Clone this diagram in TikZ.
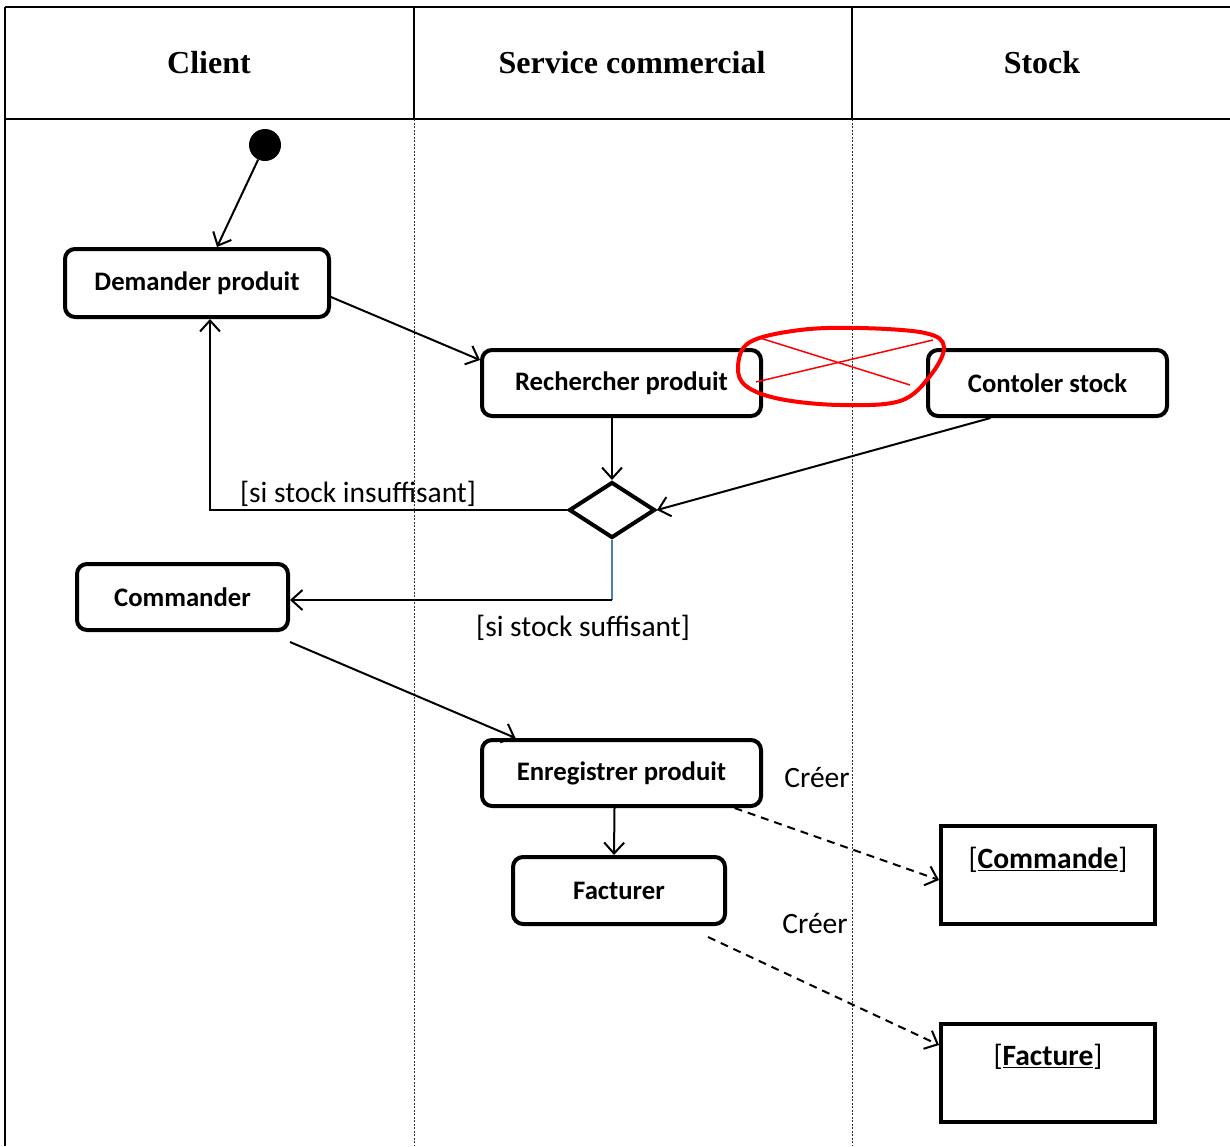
\documentclass[tikz,border=0pt]{standalone}
\usepackage{fontspec}
\setmainfont{Carlito}
\newfontfamily\hdrfont{Liberation Serif}
\usetikzlibrary{arrows.meta,shapes.geometric,calc}
\definecolor{flowblue}{RGB}{74,126,187}
\begin{document}
\begin{tikzpicture}[x=1pt,y=-1pt,
  act/.style={draw,line width=4pt,rounded corners=10pt,inner sep=0pt,
    font=\fontsize{26.7}{32}\selectfont\bfseries},
  objbox/.style={draw,line width=4pt,inner sep=0pt,minimum width=214pt,minimum height=98pt},
  objtext/.style={font=\fontsize{29.5}{35}\selectfont,inner sep=0pt},
  hdr/.style={font=\hdrfont\fontsize{32}{38}\selectfont\bfseries},
  lbl/.style={font=\fontsize{29.5}{35}\selectfont,inner sep=0pt},
  arr/.style={line width=2pt,-{Straight Barb[length=11pt,width=20pt,line width=2pt]}},
  darr/.style={arr,dash pattern=on 8pt off 6pt},
  frame/.style={line width=2pt},
  lane/.style={line width=1pt,dash pattern=on 2pt off 1.5pt,black!80}]
\useasboundingbox (0,0) rectangle (1230,1146);

% swimlane frame and headers
\draw[frame] (5,7) -- (1230,7);
\draw[frame] (5,119) -- (1230,119);
\draw[frame] (5,7) -- (5,1146);
\draw[line width=1.2pt] (414,7) -- (414,119);
\draw[line width=1.2pt] (852,7) -- (852,119);
\draw[lane] (414,119) -- (414,1146);
\draw[lane] (852,119) -- (852,1146);
\node[hdr] (hclient) at (209,63) {Client};
\node[hdr] (hserv) at (632,63) {Service commercial};
\node[hdr] (hstock) at (1042,63) {Stock};

% activities
\node[fill=black,circle,inner sep=0pt,minimum size=32pt] (start) at (265,145) {};
\node[act,minimum width=264pt,minimum height=68pt] (dem) at (197,283) {Demander produit};
\node[act,minimum width=279pt,minimum height=66pt] (rech) at (621.5,383) {Rechercher produit};
\node[act,minimum width=239pt,minimum height=66pt] (ctrl) at (1047.5,383) {Contoler stock};
\node[draw,line width=4pt,shape=diamond,aspect=1.54,minimum width=86pt,minimum height=56pt,inner sep=0pt] (dia) at (612,510) {};
\node[act,minimum width=211pt,minimum height=66pt] (cmd) at (182.5,597) {Commander};
\node[act,minimum width=279pt,minimum height=66pt] (enr) at (621.5,773) {Enregistrer produit};
\node[act,minimum width=212pt,minimum height=67pt] (fact) at (619,890.5) {Facturer};

% object boxes
\node[objbox] (ocmd) at (1048,875) {};
\node[objtext] (ocmdt) at ($(ocmd.north)+(0,36)$) {[\underline{\textbf{Commande}}]};
\node[objbox] (ofact) at (1048,1073) {};
\node[objtext] (ofactt) at ($(ofact.north)+(0,35)$) {[\underline{\textbf{Facture}}]};

% control flow
\draw[arr] (start) -- ($(dem.north)+(20,0)$);
\draw[arr] ($(dem.east)+(0,14)$) -- ($(rech.west)+(0,-23)$);
\draw[arr] (rech.south -| dia.north) -- (dia.north);
\draw[arr] ($(ctrl.south)+(-57,0)$) -- (dia.east);
\draw[arr] (dia.west) -| ($(dem.south)+(13,0)$);
\coordinate (bend) at (dia.south |- cmd.east);
\draw[flowblue,line width=1.5pt] (dia.south) -- ($(bend)+(0,3)$);
\draw[arr] ($(bend)+(0,3)$) -- ($(cmd.east)+(0,3)$);
\draw[arr] ($(cmd.south east)+(0,10)$) -- ($(enr.north)+(-106,0)$);
\draw[arr] ($(enr.south)+(-7,0)$) -- ($(fact.north)+(-5,0)$);
\draw[darr] ($(enr.south)+(113,0)$) -- ($(ocmd.west)+(0,5)$);
\draw[darr] ($(fact.south)+(89,11)$) -- ($(ofact.west)+(0,-28)$);

% guard and flow labels
\node[lbl] (ginsuf) at (358,494) {[si stock insuffisant]};
\node[lbl] (gsuf) at (583,628) {[si stock suffisant]};
\node[lbl] (cre1) at (817,778) {Créer};
\node[lbl] (cre2) at (815,924) {Créer};

% red strike-through mark
\draw[red,line width=4pt] plot[smooth cycle,tension=0.6] coordinates
  {(738,366) (750,342) (800,330) (860,328) (925,333) (944,347) (930,376) (900,401) (840,405) (780,399) (746,386)};
\draw[red,line width=1.5pt] (760,338) -- (910,385);
\draw[red,line width=1.5pt] (756,382) -- (933,340);
\end{tikzpicture}
\end{document}
